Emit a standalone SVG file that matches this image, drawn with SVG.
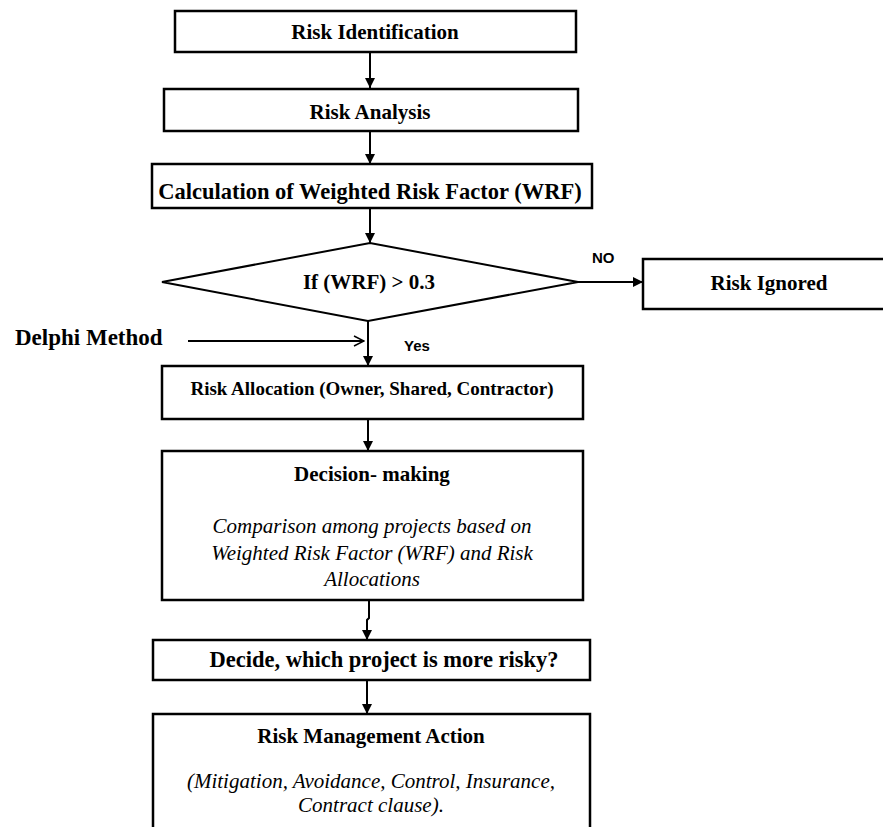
<svg xmlns="http://www.w3.org/2000/svg" width="883" height="827" viewBox="0 0 883 827">
<style>
.box{fill:#fff;stroke:#000;stroke-width:2.5}
.dia{fill:#fff;stroke:#000;stroke-width:2}
.b{font-family:"Liberation Serif","Times New Roman",serif;font-weight:bold;font-size:21px;text-anchor:middle;fill:#000}
.i{font-family:"Liberation Serif","Times New Roman",serif;font-style:italic;font-size:21px;text-anchor:middle;fill:#000}
.s{font-family:"Liberation Sans",Arial,sans-serif;font-weight:bold;font-size:15px;fill:#000}
.ln{stroke:#000;stroke-width:2;fill:none}
</style>
<defs>
<marker id="ah" markerWidth="10" markerHeight="10" refX="10" refY="5" orient="auto" markerUnits="userSpaceOnUse" viewBox="0 0 10 10">
<path d="M0,0 L10,5 L0,10 Z" fill="#000"/>
</marker>
<marker id="oh" markerWidth="12" markerHeight="12" refX="11" refY="6" orient="auto" markerUnits="userSpaceOnUse" viewBox="0 0 12 12">
<path d="M1,1 L11,6 L1,11" fill="none" stroke="#000" stroke-width="1.5"/>
</marker>
</defs>
<rect width="883" height="827" fill="#fff"/>
<g id="connectors">
<line class="ln" x1="370" y1="52" x2="370" y2="88" marker-end="url(#ah)"/>
<line class="ln" x1="370" y1="131" x2="370" y2="164" marker-end="url(#ah)"/>
<line class="ln" x1="370" y1="208" x2="370" y2="243" marker-end="url(#ah)"/>
<line class="ln" x1="578" y1="282" x2="643" y2="282" marker-end="url(#ah)"/>
<line class="ln" x1="368" y1="321" x2="368" y2="366" marker-end="url(#ah)"/>
<line class="ln" x1="188" y1="341" x2="364" y2="341" stroke-width="1.5" marker-end="url(#oh)"/>
<line class="ln" x1="368" y1="419" x2="368" y2="451" marker-end="url(#ah)"/>
<path class="ln" d="M369,600 L369,618 L367,620 L367,640" marker-end="url(#ah)"/>
<line class="ln" x1="367" y1="680" x2="367" y2="714" marker-end="url(#ah)"/>
<text class="s" x="592" y="263">NO</text>
<text class="s" x="404" y="351">Yes</text>
</g>
<g id="n1"><rect class="box" x="175" y="11" width="401" height="41"/><text class="b" x="375" y="39">Risk Identification</text></g>
<g id="n2"><rect class="box" x="164" y="89" width="414" height="42"/><text class="b" x="370" y="119">Risk Analysis</text></g>
<g id="n3"><rect class="box" x="152" y="164" width="440" height="44"/><text class="b" x="370" y="199" style="font-size:22.5px">Calculation of Weighted Risk Factor (WRF)</text></g>
<g id="n4"><polygon class="dia" points="162,282 370,243 578,282 368,321"/><text class="b" x="369" y="289">If (WRF) &gt; 0.3</text></g>
<g id="n5"><rect class="box" x="643" y="259" width="242" height="50"/><text class="b" x="769" y="290">Risk Ignored</text></g>
<g id="n6"><text class="b" x="15" y="345" style="text-anchor:start;font-size:23px">Delphi Method</text></g>
<g id="n7"><rect class="box" x="162" y="366" width="421" height="53"/><text class="b" x="372" y="395" style="font-size:19px">Risk Allocation (Owner, Shared, Contractor)</text></g>
<g id="n8"><rect class="box" x="162" y="451" width="421" height="149"/><text class="b" x="372" y="481">Decision- making</text>
<text class="i" x="372" y="533">Comparison among projects based on</text>
<text class="i" x="372" y="560">Weighted Risk Factor (WRF) and Risk</text>
<text class="i" x="372" y="586">Allocations</text></g>
<g id="n9"><rect class="box" x="153" y="640" width="437" height="40"/><text class="b" x="384" y="667" style="font-size:22.5px">Decide, which project is more risky?</text></g>
<g id="n10"><rect class="box" x="153" y="714" width="437" height="120"/><text class="b" x="371" y="743">Risk Management Action</text>
<text class="i" x="371" y="788">(Mitigation, Avoidance, Control, Insurance,</text>
<text class="i" x="371" y="812">Contract clause).</text></g>
</svg>
